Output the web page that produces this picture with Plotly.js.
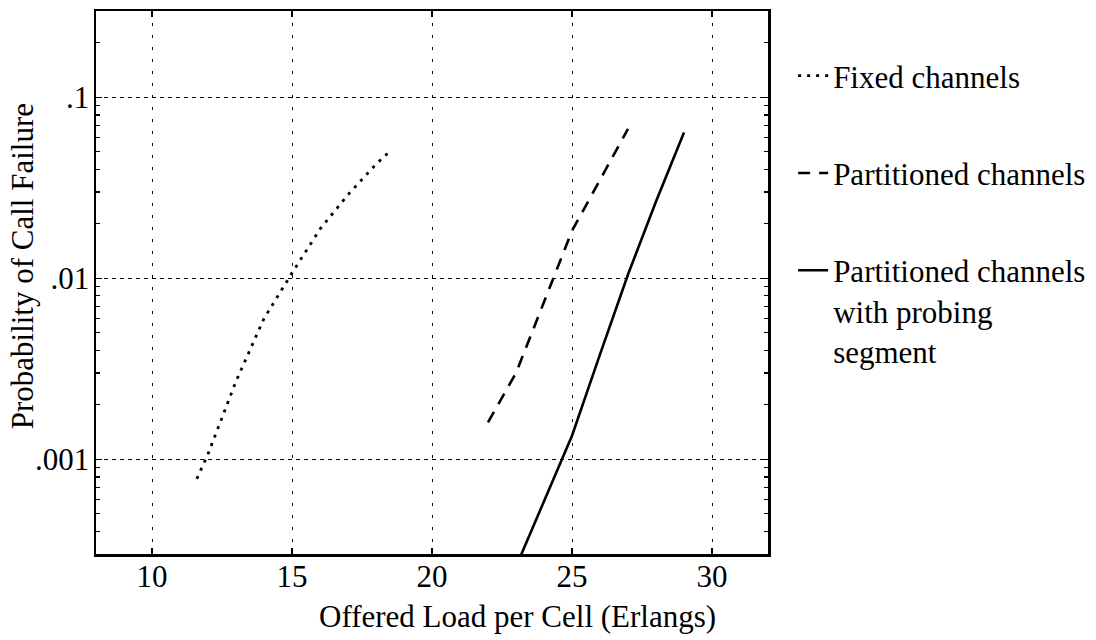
<!DOCTYPE html>
<html>
<head>
<meta charset="utf-8">
<script src="https://cdn.plot.ly/plotly-3.0.1.min.js"></script>
<style>
html, body { margin: 0; padding: 0; background: #fff; }
#chart { width: 1096px; height: 640px; }
</style>
</head>
<body>
<div id="chart"></div>
<script>
// Offered load (Erlangs) and probability of call failure
const fixedLoad = [11.6, 12, 13, 14, 15, 16, 17, 18, 18.5];
const fixedFail = [0.00078, 0.00107, 0.0027, 0.006, 0.0107, 0.0187, 0.029, 0.0427, 0.0505];

const partLoad = [22, 23, 24, 25, 26, 27];
const partFail = [0.0016, 0.003, 0.0074, 0.0183, 0.035, 0.067];

const probeLoad = [23, 24, 25, 26, 27, 28, 29];
const probeFail = [0.000255, 0.00058, 0.00135, 0.0038, 0.0105, 0.0266, 0.064];

const seriesNames = ["Fixed channels", "Partitioned channels", "Partitioned channels<br>with probing<br>segment"];

const xTicks = [10, 15, 20, 25, 30];
const yTickVals = [0.001, 0.01, 0.1];
const yTickText = [".001", ".01", ".1"];

const xTitle = "Offered Load per Cell (Erlangs)";
const yTitle = "Probability of Call Failure";

const FONT = "Liberation Serif, Times New Roman, serif";

const traces = [
  { x: fixedLoad, y: fixedFail, name: seriesNames[0], legendgroup: "a", mode: "lines",
    line: { color: "black", width: 2.8, dash: "3px,6px" } },
  { x: partLoad, y: partFail, name: seriesNames[1], legendgroup: "b", mode: "lines",
    line: { color: "black", width: 2.6, dash: "12px,9px" } },
  { x: probeLoad, y: probeFail, name: seriesNames[2], legendgroup: "c", mode: "lines",
    line: { color: "black", width: 2.6 } }
];

const layout = {
  width: 1096, height: 640,
  margin: { l: 96, r: 328, t: 11, b: 86, autoexpand: false },
  paper_bgcolor: "white", plot_bgcolor: "white",
  font: { family: FONT, size: 31, color: "black" },
  showlegend: true,
  legend: {
    x: 1.0374, xanchor: "left", y: 0.93, yanchor: "top",
    traceorder: "grouped", tracegroupgap: 54, valign: "top",
    font: { family: FONT, size: 31, color: "black" },
    bgcolor: "rgba(0,0,0,0)", borderwidth: 0
  },
  xaxis: {
    range: [8, 32], tickmode: "array", tickvals: xTicks,
    showline: true, linecolor: "black", linewidth: 2.5, mirror: "allticks",
    ticks: "inside", ticklen: 6, tickwidth: 1.5, tickcolor: "black",
    showgrid: true, gridcolor: "black", gridwidth: 1, griddash: "3px,9px",
    zeroline: false, ticklabelstandoff: -7, automargin: false,
    tickfont: { family: FONT, size: 31, color: "black" }
  },
  yaxis: {
    type: "log", range: [Math.log10(0.0003), Math.log10(0.3)],
    tickmode: "array", tickvals: yTickVals, ticktext: yTickText,
    showline: true, linecolor: "black", linewidth: 2.5, mirror: "allticks",
    ticks: "inside", ticklen: 6, tickwidth: 1.5, tickcolor: "black",
    minor: { tickmode: "linear", dtick: "D1", ticks: "inside", ticklen: 4, tickwidth: 1.2, tickcolor: "black", showgrid: false },
    showgrid: true, gridcolor: "black", gridwidth: 1, griddash: "4px,4px",
    zeroline: false, ticklabelstandoff: -2, automargin: false,
    tickfont: { family: FONT, size: 31, color: "black" }
  },
  annotations: [
    { text: xTitle, xref: "paper", yref: "paper", x: 0.6265, y: -0.116,
      xanchor: "center", yanchor: "middle", showarrow: false,
      font: { family: FONT, size: 31, color: "black" } },
    { text: yTitle, xref: "paper", yref: "paper", x: -0.110, y: 0.530, textangle: -90,
      xanchor: "center", yanchor: "middle", showarrow: false,
      font: { family: FONT, size: 31, color: "black" } }
  ]
};

Plotly.newPlot("chart", traces, layout, { staticPlot: true, displayModeBar: false });
</script>
</body>
</html>
